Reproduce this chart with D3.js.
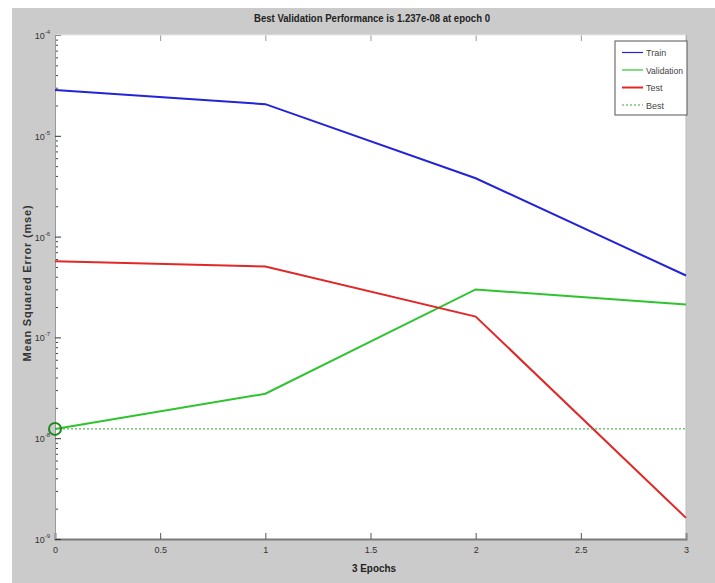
<!DOCTYPE html>
<html>
<head>
<meta charset="utf-8">
<script src="https://cdn.jsdelivr.net/npm/d3@7"></script>
<style>
  html, body { margin: 0; padding: 0; background: #ffffff; }
  svg { display: block; }
  .tick text { font-family: "Liberation Sans Narrow", "Liberation Sans", Arial, sans-serif; }
</style>
</head>
<body>
<svg id="chart" width="715" height="583"></svg>
<script>
// Training record: mean squared error per epoch
const epochs = [0, 1, 2, 3];
const trainMse = [2.84e-5, 2.06e-5, 3.79e-6, 4.11e-7];
const validationMse = [1.237e-8, 2.76e-8, 2.99e-7, 2.12e-7];
const testMse = [5.68e-7, 5.06e-7, 1.61e-7, 1.62e-9];
const bestEpoch = 0;
const bestValue = 1.237e-8;
const xTicks = [0, 0.5, 1, 1.5, 2, 2.5, 3];
const yDecades = [-9, -8, -7, -6, -5, -4];
const seriesNames = ["Train", "Validation", "Test", "Best"];

const svg = d3.select("#chart");
const W = 715, H = 583;
const plot = { left: 55, top: 35, right: 686, bottom: 539 };

// figure background
svg.append("rect").attr("x", 12).attr("y", 8).attr("width", W - 12).attr("height", H - 8)
  .attr("fill", "#cbcbcb");

// axes area
svg.append("rect").attr("x", plot.left).attr("y", plot.top)
  .attr("width", plot.right - plot.left).attr("height", plot.bottom - plot.top)
  .attr("fill", "#ffffff");

const x = d3.scaleLinear().domain([0, 3]).range([plot.left, plot.right]);
const y = d3.scaleLog().domain([1e-9, 1e-4]).range([plot.bottom, plot.top]);

const font = "'Liberation Sans Narrow', 'Liberation Sans', Arial, sans-serif";

// x axis (ticks point inward)
const xAxis = d3.axisBottom(x).tickValues(xTicks).tickSize(-6).tickPadding(8)
  .tickFormat(d3.format("~g"));
const gx = svg.append("g").attr("transform", `translate(0,${plot.bottom})`).call(xAxis);
gx.select(".domain").attr("stroke", "#7a7a7a").attr("stroke-width", 2);
gx.selectAll(".tick line").attr("stroke", "#555");
gx.selectAll(".tick text").attr("font-size", 9).attr("fill", "#333");

// top ticks
svg.append("g").attr("transform", `translate(0,${plot.top})`)
  .call(d3.axisTop(x).tickValues(xTicks).tickSize(-6).tickFormat(""))
  .call(g => { g.select(".domain").remove(); g.selectAll("line").attr("stroke", "#999"); });

// y axis: major decades with labels, minor ticks per decade
const minorVals = [];
yDecades.forEach(e => { if (e < -4) for (let k = 2; k <= 9; k++) minorVals.push(k * Math.pow(10, e)); });
const yMinor = d3.axisLeft(y).tickValues(minorVals).tickSize(-3).tickFormat("");
svg.append("g").attr("transform", `translate(${plot.left},0)`).call(yMinor)
  .call(g => { g.select(".domain").remove(); g.selectAll("line").attr("stroke", "#444"); });

const yMajor = d3.axisLeft(y).tickValues(yDecades.map(e => Math.pow(10, e))).tickSize(-6)
  .tickFormat("");
const gy = svg.append("g").attr("transform", `translate(${plot.left},0)`).call(yMajor);
gy.select(".domain").attr("stroke", "#9a9a9a").attr("stroke-width", 1);
gy.selectAll(".tick line").attr("stroke", "#333");

// decade labels as 10 with superscript exponent
yDecades.forEach(e => {
  const t = svg.append("text").attr("x", plot.left - 5).attr("y", y(Math.pow(10, e)) + 4)
    .attr("text-anchor", "end").attr("font-family", font).attr("font-size", 9).attr("fill", "#333");
  t.append("tspan").text("10");
  t.append("tspan").attr("dy", -5).attr("font-size", 6).text(e);
});

// right and top edges of the box
svg.append("line").attr("x1", plot.right).attr("x2", plot.right).attr("y1", plot.top).attr("y2", plot.bottom)
  .attr("stroke", "#bdbdbd");
svg.append("line").attr("x1", plot.left).attr("x2", plot.right).attr("y1", plot.top).attr("y2", plot.top)
  .attr("stroke", "#e6e6e6");

const line = d3.line().x((d, i) => x(epochs[i])).y(d => y(d));

svg.append("path").datum(trainMse).attr("d", line).attr("fill", "none")
  .attr("stroke", "#2323d8").attr("stroke-width", 2);
svg.append("path").datum(validationMse).attr("d", line).attr("fill", "none")
  .attr("stroke", "#2ec42e").attr("stroke-width", 2);
svg.append("path").datum(testMse).attr("d", line).attr("fill", "none")
  .attr("stroke", "#e02828").attr("stroke-width", 2);

// best validation marker
svg.append("line").attr("x1", x(0)).attr("x2", x(3)).attr("y1", y(bestValue)).attr("y2", y(bestValue))
  .attr("stroke", "#3aa33a").attr("stroke-width", 1).attr("stroke-dasharray", "2,2");
svg.append("circle").attr("cx", x(bestEpoch)).attr("cy", y(bestValue)).attr("r", 6)
  .attr("fill", "none").attr("stroke", "#1e8a1e").attr("stroke-width", 2);

// title
svg.append("text").attr("x", 372).attr("y", 22).attr("text-anchor", "middle")
  .attr("font-family", font).attr("font-size", 11).attr("fill", "#222").attr("font-weight", "bold")
  .attr("textLength", 236).attr("lengthAdjust", "spacingAndGlyphs")
  .text("Best Validation Performance is 1.237e-08 at epoch 0");

// axis labels
svg.append("text").attr("x", 374).attr("y", 572).attr("text-anchor", "middle")
  .attr("font-family", font).attr("font-size", 11).attr("font-weight", "bold").attr("fill", "#222")
  .attr("textLength", 44).attr("lengthAdjust", "spacingAndGlyphs")
  .text("3 Epochs");
svg.append("text").attr("transform", `translate(31,${(plot.top + plot.bottom) / 2 - 4}) rotate(-90)`)
  .attr("text-anchor", "middle").attr("font-family", "'Liberation Sans', Arial, sans-serif")
  .attr("font-size", 11).attr("font-weight", "bold").attr("letter-spacing", 0.8).attr("fill", "#333")
  .text("Mean Squared Error  (mse)");

// legend
const lg = svg.append("g").attr("transform", "translate(615,41)");
lg.append("rect").attr("width", 72).attr("height", 74).attr("fill", "#ffffff")
  .attr("stroke", "#555").attr("stroke-width", 1);
const legendStyles = [
  { color: "#2323d8", width: 1.2, dash: null },
  { color: "#2ec42e", width: 1.2, dash: null },
  { color: "#e02828", width: 2, dash: null },
  { color: "#3aa33a", width: 1, dash: "2,2" }
];
seriesNames.forEach((name, i) => {
  const yy = 11.5 + i * 17.5;
  lg.append("line").attr("x1", 7).attr("x2", 28).attr("y1", yy).attr("y2", yy)
    .attr("stroke", legendStyles[i].color).attr("stroke-width", legendStyles[i].width)
    .attr("stroke-dasharray", legendStyles[i].dash);
  lg.append("text").attr("x", 31).attr("y", yy + 3.5).attr("font-family", font).attr("font-size", 9)
    .attr("fill", "#444").attr("textLength", name === "Validation" ? 37 : null)
    .attr("lengthAdjust", "spacingAndGlyphs").text(name);
});
</script>
</body>
</html>
